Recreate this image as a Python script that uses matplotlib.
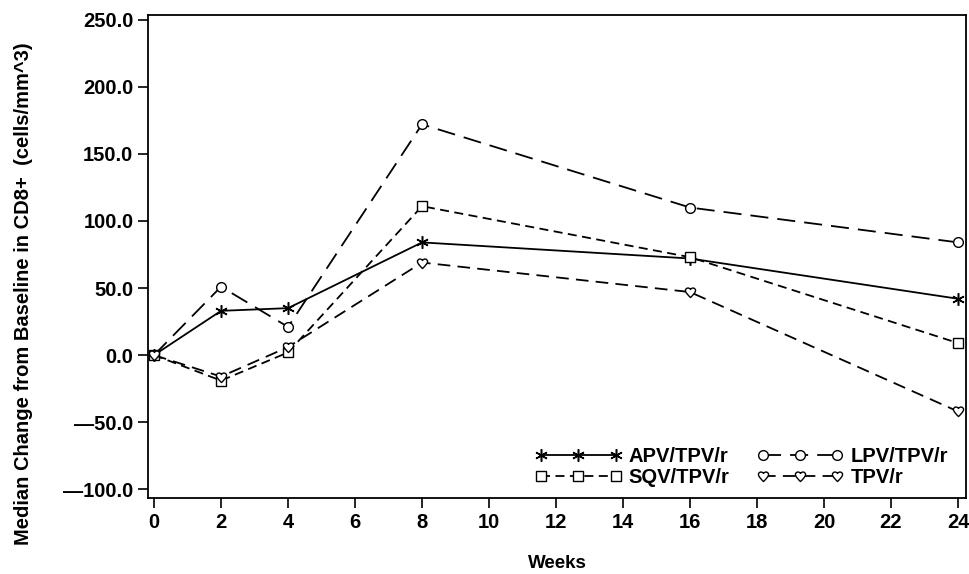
import matplotlib
matplotlib.use("Agg")
import matplotlib.pyplot as plt
from matplotlib.ticker import FuncFormatter
from matplotlib.path import Path

plt.rcParams['font.family'] = ['Liberation Sans', 'DejaVu Sans']
plt.rcParams['font.weight'] = 'bold'

weeks = [0, 2, 4, 8, 16, 24]
apv = [0, 33, 35, 84, 72, 42]
lpv = [0, 51, 21, 172, 110, 84]
sqv = [0, -19, 2, 111, 73, 9]
tpv = [0, -16, 6, 69, 47, -42]

x_ticks = list(range(0, 25, 2))
y_ticks = [-100, -50, 0, 50, 100, 150, 200, 250]

heart = Path(
    [(0, -1), (-0.5, -0.5), (-1, 0), (-1, 0.4),
     (-1, 0.9), (-0.3, 1.1), (0, 0.6),
     (0.3, 1.1), (1, 0.9), (1, 0.4),
     (1, 0), (0.5, -0.5), (0, -1), (0, -1)],
    [Path.MOVETO, Path.CURVE4, Path.CURVE4, Path.CURVE4,
     Path.CURVE4, Path.CURVE4, Path.CURVE4,
     Path.CURVE4, Path.CURVE4, Path.CURVE4,
     Path.CURVE4, Path.CURVE4, Path.CURVE4, Path.CLOSEPOLY])

fig = plt.figure(figsize=(9.7, 5.74), dpi=100)
ax = fig.add_axes([0.1526, 0.1324, 0.8433, 0.8415])

lw = 1.3
ax.plot(weeks, apv, color='black', lw=lw, ls='-', marker=(6, 2, 0), ms=9, mew=1.1,
        label='APV/TPV/r')
ax.plot(weeks, lpv, color='black', lw=lw, ls=(0, (10, 5)), marker='o', ms=7,
        mfc='white', mew=1.0, label='LPV/TPV/r')
ax.plot(weeks, sqv, color='black', lw=lw, ls=(0, (5, 3)), marker='s', ms=7,
        mfc='white', mew=1.0, label='SQV/TPV/r')
ax.plot(weeks, tpv, color='black', lw=lw, ls=(0, (7, 4)), marker=heart,
        ms=8, mfc='white', mew=1.0, label='TPV/r')

ax.set_xlim(-0.18, 24.24)
ax.set_ylim(-106.5, 253.5)
ax.set_xticks(x_ticks)
ax.set_yticks(y_ticks)
ax.yaxis.set_major_formatter(
    FuncFormatter(lambda v, p: ('%.1f' % v).replace('-', '\u2014')))
ax.tick_params(direction='out', length=7, width=1.2, labelsize=14.5)
for s in ax.spines.values():
    s.set_linewidth(1.3)

ax.set_xlabel('Weeks', fontsize=13.5, fontweight='bold', labelpad=17)
ax.set_ylabel('Median Change from Baseline in CD8+  (cells/mm^3)', fontsize=14.5,
              fontweight='bold')
ax.yaxis.set_label_coords(-0.141, 0.424)

leg = ax.legend(handles=[ax.lines[0], ax.lines[2], ax.lines[1], ax.lines[3]],
                ncol=2, loc='lower right', frameon=False, numpoints=3,
                fontsize=14.5, handlelength=4.3, columnspacing=1.35,
                handletextpad=0.35, labelspacing=0.1, bbox_to_anchor=(1.0, -0.015))

fig.savefig('out.png', dpi=100)
